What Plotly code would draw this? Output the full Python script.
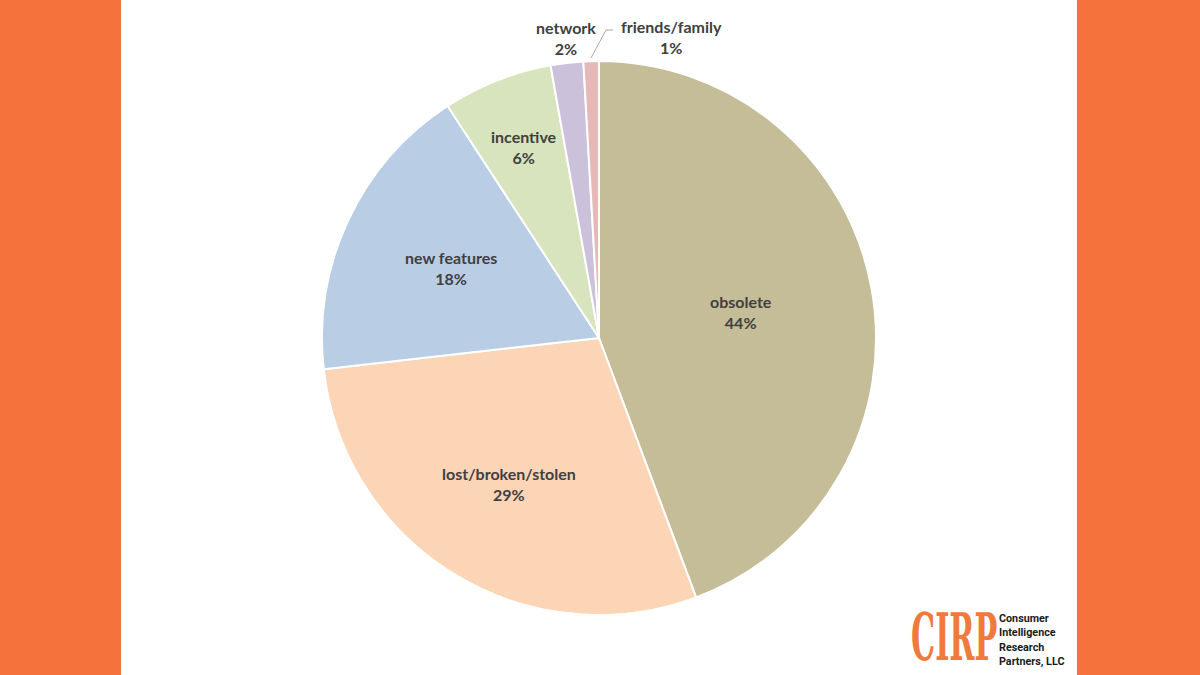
import math
import plotly.graph_objects as go

categories = ["obsolete", "lost/broken/stolen", "new features", "incentive", "network", "friends/family"]
values = [44.3, 28.9, 17.6, 6.4, 1.9, 0.9]
colors = ["#C4BD97", "#FBD5B5", "#B9CDE5", "#D7E4BD", "#CCC1DA", "#E6B9B8"]

# label placement style (fraction of radius for inside labels; None = outside label)
label_radius = [0.52, 0.62, 0.59, 0.74, None, None]
outside_pos = {"network": (566, 38), "friends/family": (671, 37)}

W, H = 1200, 675
CX, CY, R = 599, 338, 277
FONT = "Lato, Open Sans, sans-serif"
total = sum(values)

fig = go.Figure()
fig.add_trace(go.Pie(
    labels=categories,
    values=values,
    sort=False,
    direction="clockwise",
    rotation=0,
    marker=dict(colors=colors, line=dict(color="white", width=2)),
    textinfo="none",
    showlegend=False,
    hoverinfo="label+percent",
    domain=dict(x=[(CX - R) / W, (CX + R) / W], y=[(H - CY - R) / H, (H - CY + R) / H]),
))

cum = 0.0
for c, v, rf in zip(categories, values, label_radius):
    mid = (cum + v / 2) / total * 2 * math.pi
    cum += v
    txt = f"<b>{c}<br>{round(100 * v / total)}%</b>"
    if rf is not None:
        px = CX + rf * R * math.sin(mid)
        py = CY - rf * R * math.cos(mid)
    else:
        px, py = outside_pos[c]
    fig.add_annotation(xref="paper", yref="paper", x=px / W, y=1 - py / H,
                       xanchor="center", yanchor="middle", showarrow=False,
                       text=txt, font=dict(family=FONT, size=16, color="#404040"))

# leader line for friends/family
fig.add_shape(type="path", xref="paper", yref="paper",
              path=f"M {613/W},{1-30/H} L {606/W},{1-30/H} L {591/W},{1-58/H}",
              line=dict(color="#A6A6A6", width=1))

fig.add_shape(type="rect", xref="paper", yref="paper",
              x0=121 / W, x1=1077 / W, y0=0, y1=1,
              fillcolor="white", line=dict(width=0), layer="below")

fig.add_annotation(xref="paper", yref="paper", x=909 / W, y=1 - 637 / H,
                   xanchor="left", yanchor="middle", showarrow=False,
                   text="<b>CIRP</b>",
                   font=dict(family="DejaVu Serif, serif", size=66, color="#F07A3E"))
fig.add_annotation(xref="paper", yref="paper", x=997 / W, y=1 - 640 / H,
                   xanchor="left", yanchor="middle", showarrow=False, align="left",
                   text="<b>Consumer<br>Intelligence<br>Research<br>Partners, LLC</b>",
                   font=dict(family="Roboto, sans-serif", size=11, color="#1A1A1A"))

fig.update_layout(
    width=W, height=H,
    margin=dict(l=0, r=0, t=0, b=0),
    paper_bgcolor="#F6723C",
    plot_bgcolor="white",
)

post = """
document.body.style.margin='0';
var gd = document.getElementById('{plot_id}');
var squeeze = {'CIRP': 0.46, 'ConsumerIntelligenceResearchPartners, LLC': 0.98};
gd.querySelectorAll('text.annotation-text').forEach(function(t){
  var k = t.textContent;
  if (squeeze[k] !== undefined) {
    t.style.transformBox = 'fill-box';
    t.style.transformOrigin = 'left center';
    t.style.transform = 'scaleX(' + squeeze[k] + ')';
  }
});
"""

fig.write_html("out.html", config={"displayModeBar": False}, post_script=post)
